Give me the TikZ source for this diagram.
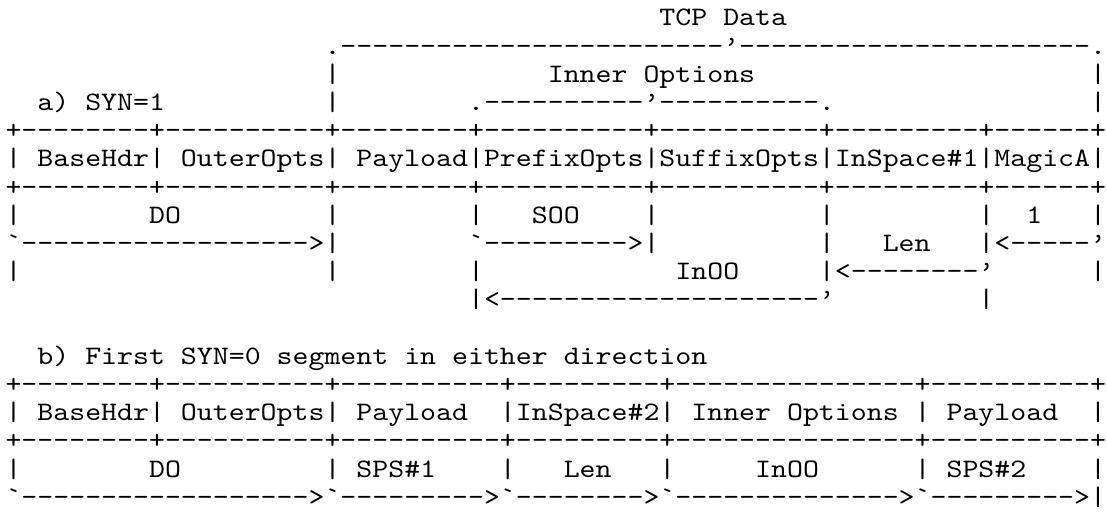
\documentclass[tikz,border=0pt]{standalone}
\usepackage{fontspec}
% typewriter face widened so that one column is 15.95pt wide
\newfontfamily\asciifont{lmmono10-regular}[Extension=.otf, FakeStretch=1.1393]
% \dsh{n}: a run of n hyphens
\ExplSyntaxOn
\cs_new:Npn \dsh #1 { \prg_replicate:nn {#1} {-} }
\ExplSyntaxOff
\tikzset{
  ascii/.style={anchor=base west, inner sep=0pt, outer sep=0pt,
    font=\asciifont\fontsize{26.667pt}{28pt}\selectfont}
}
% \seg{name}{row}{column}{text}: one run of characters on the grid
\newcommand\seg[4]{\node[ascii] (#1) at ({5.5+15.95*#3},{527-26-28.2*#2}) {#4};}

\begin{document}
\begin{tikzpicture}[x=1pt,y=1pt]
\useasboundingbox (0,0) rectangle (1107,527);
\fill[white] (0,0) rectangle (1107,527);

% --- a) SYN=1 ---
\seg{tcpdata}{0}{41}{TCP Data}
\seg{bracetop}{1}{20}{.\dsh{24}’\dsh{22}.}
\seg{r2l}{2}{20}{|}
\seg{inner}{2}{34}{Inner Options}
\seg{r2r}{2}{68}{|}
\seg{lbla}{3}{2}{a) SYN=1}
\seg{r3l}{3}{20}{|}
\seg{braceinner}{3}{29}{.\dsh{10}’\dsh{10}.}
\seg{r3r}{3}{68}{|}
\seg{hdrAtop}{4}{0}{+\dsh{8}+\dsh{10}+\dsh{8}+\dsh{10}+\dsh{10}+\dsh{9}+\dsh{6}+}
\seg{hdrA}{5}{0}{| BaseHdr| OuterOpts| Payload|PrefixOpts|SuffixOpts|InSpace\#1|MagicA|}
\seg{hdrAbot}{6}{0}{+\dsh{8}+\dsh{10}+\dsh{8}+\dsh{10}+\dsh{10}+\dsh{9}+\dsh{6}+}

\seg{r7a}{7}{0}{|}
\seg{doA}{7}{9}{DO}
\seg{r7b}{7}{20}{|}
\seg{r7c}{7}{29}{|}
\seg{soo}{7}{33}{SOO}
\seg{r7d}{7}{40}{|}
\seg{r7e}{7}{51}{|}
\seg{r7f}{7}{61}{|}
\seg{one}{7}{64}{1}
\seg{r7g}{7}{68}{|}

\seg{doAarrow}{8}{0}{`\dsh{18}>|}
\seg{sooarrow}{8}{29}{`\dsh{9}>|}
\seg{r8e}{8}{51}{|}
\seg{lenA}{8}{55}{Len}
\seg{onearrow}{8}{61}{|<\dsh{5}’}

\seg{r9a}{9}{0}{|}
\seg{r9b}{9}{20}{|}
\seg{r9c}{9}{29}{|}
\seg{inooA}{9}{42}{InOO}
\seg{lenarrow}{9}{51}{|<\dsh{8}’}
\seg{r9g}{9}{68}{|}

\seg{inooarrow}{10}{29}{|<\dsh{20}’}
\seg{r10f}{10}{61}{|}

% --- b) first SYN=0 segment ---
\seg{lblb}{12}{2}{b) First SYN=0 segment in either direction}
\seg{hdrBtop}{13}{0}{+\dsh{8}+\dsh{10}+\dsh{10}+\dsh{9}+\dsh{15}+\dsh{10}+}
\seg{hdrB}{14}{0}{| BaseHdr| OuterOpts| Payload\ \ |InSpace\#2| Inner Options | Payload\ \ |}
\seg{hdrBbot}{15}{0}{+\dsh{8}+\dsh{10}+\dsh{10}+\dsh{9}+\dsh{15}+\dsh{10}+}

\seg{r16a}{16}{0}{|}
\seg{doB}{16}{9}{DO}
\seg{sps1}{16}{20}{| SPS\#1}
\seg{r16c}{16}{31}{|}
\seg{lenB}{16}{35}{Len}
\seg{r16d}{16}{41}{|}
\seg{inooB}{16}{47}{InOO}
\seg{sps2}{16}{57}{| SPS\#2}
\seg{r16f}{16}{68}{|}

\seg{arrowsB}{17}{0}{`\dsh{18}>`\dsh{9}>`\dsh{8}>`\dsh{14}>`\dsh{9}>|}
\end{tikzpicture}
\end{document}
